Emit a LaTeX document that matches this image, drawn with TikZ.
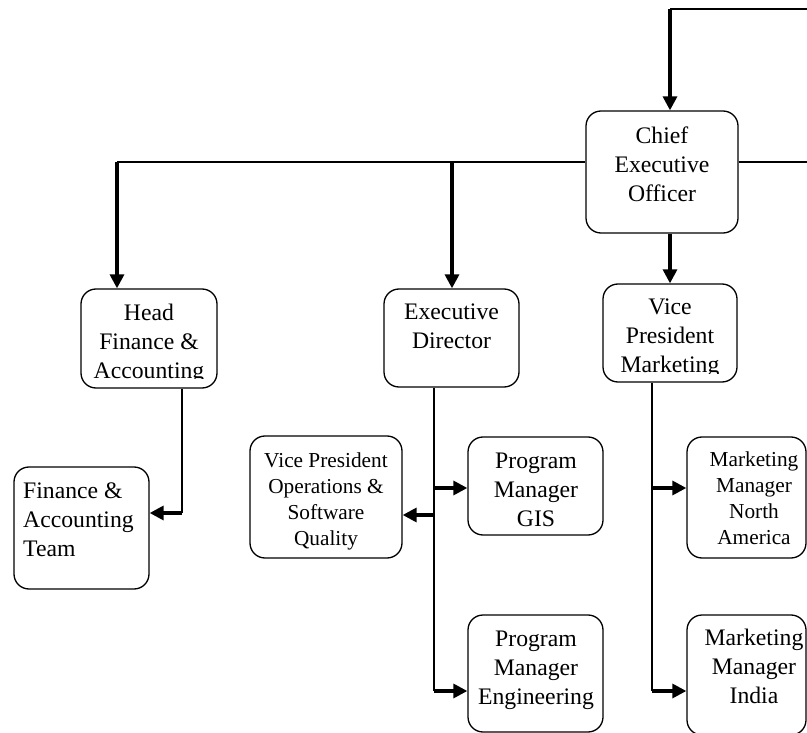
\documentclass[tikz,border=0pt]{standalone}
\usepackage{fontspec}
\setmainfont{Liberation Serif}
\usetikzlibrary{arrows.meta, positioning}

\begin{document}
\begin{tikzpicture}[x=1pt, y=-1pt,
  box/.style={draw, line width=1.3pt, rounded corners=15pt, inner sep=0pt},
  txt/.style={inner sep=0pt, align=center, font=\fontsize{23.7pt}{29pt}\selectfont},
  smalltxt/.style={txt, font=\fontsize{21.3pt}{26pt}\selectfont},
  link/.style={line width=1.4pt},
  feed/.style={line width=3.2pt, -{Triangle[length=14pt, width=14pt]}}]
\useasboundingbox (0,0) rectangle (807,733);
\clip (0,0) rectangle (807,733);

% Top: chief executive
\node[box, minimum width=152pt, minimum height=122pt] (ceo) at (662,172) {};
\node[txt, anchor=north] (ceo-t) at (662,127) {Chief\\Executive\\Officer};

% Second row
\node[box, minimum width=136pt, minimum height=99pt] (head) at (149,338.5) {};
\begin{scope}
\clip (81,289) rectangle (217,378);
\node[txt, anchor=north] (head-t) at (149,304) {Head\\Finance \&\\Accounting};
\end{scope}
\node[box, minimum width=135pt, minimum height=98pt] (exec) at (451.5,338) {};
\node[txt, anchor=north] (exec-t) at (451.5,304) {Executive\\Director};
\node[box, minimum width=134pt, minimum height=98pt] (vpm) at (670,333) {};
\begin{scope}
\clip (603,284) rectangle (737,373);
\node[txt, anchor=north] (vpm-t) at (670,299) {Vice\\President\\Marketing};
\end{scope}

% Third row
\node[box, minimum width=135pt, minimum height=122pt] (fat) at (81.5,528) {};
\node[txt, align=left, anchor=north west] (fat-t) at (23,483) {Finance \&\\Accounting\\Team};
\node[box, minimum width=152pt, minimum height=122pt] (vpo) at (326,497) {};
\node[smalltxt, anchor=north] (vpo-t) at (326,452.5) {Vice President\\Operations \&\\Software\\Quality};
\node[box, minimum width=135pt, minimum height=98pt] (pmg) at (535.5,486) {};
\node[txt, anchor=north] (pmg-t) at (536,453) {Program\\Manager\\GIS};
\node[box, minimum width=135pt, minimum height=117pt] (pme) at (535.5,673.5) {};
\node[txt, anchor=north] (pme-t) at (536,631) {Program\\Manager\\Engineering};
\node[box, minimum width=119pt, minimum height=121pt] (mmna) at (746.5,497.5) {};
\node[smalltxt, anchor=north] (mmna-t) at (754,452) {Marketing\\Manager\\North\\America};
\node[box, minimum width=119pt, minimum height=120pt] (mmi) at (746.5,675) {};
\node[txt, anchor=north] (mmi-t) at (754,629) {Marketing\\Manager\\India};

% Connectors from the top
\coordinate (tr) at (807,9);
\coordinate (tk) at (670,9);
\draw[link] (tr) -- (tk);
\draw[feed] (tk) -- (tk |- ceo.north);
\coordinate (lj) at (117,162);
\coordinate (mj) at (452,162);
\coordinate (rr) at (807,162);
\draw[link] ([yshift=10pt]ceo.west) -- (lj);
\draw[link] ([yshift=10pt]ceo.east) -- (rr);
\draw[feed] (lj) -- (lj |- head.north);
\draw[feed] (mj) -- (mj |- exec.north);
\draw[feed] (vpm.north |- ceo.south) -- (vpm.north);

% Finance branch
\coordinate (hj) at (182,513);
\draw[link] (hj |- head.south) -- (hj);
\draw[feed] (hj) -- (hj -| fat.east);

% Executive director branch
\coordinate (e1) at (434,488);
\coordinate (e2) at (434,515);
\coordinate (e3) at (434,691);
\draw[link] (e1 |- exec.south) -- (e3);
\draw[feed] (e1) -- (e1 -| pmg.west);
\draw[feed] (e2) -- (e2 -| vpo.east);
\draw[feed] (e3) -- (e3 -| pme.west);

% Marketing branch
\coordinate (m1) at (652,488);
\coordinate (m2) at (652,691);
\draw[link] (m1 |- vpm.south) -- (m2);
\draw[feed] (m1) -- (m1 -| mmna.west);
\draw[feed] (m2) -- (m2 -| mmi.west);
\end{tikzpicture}
\end{document}
